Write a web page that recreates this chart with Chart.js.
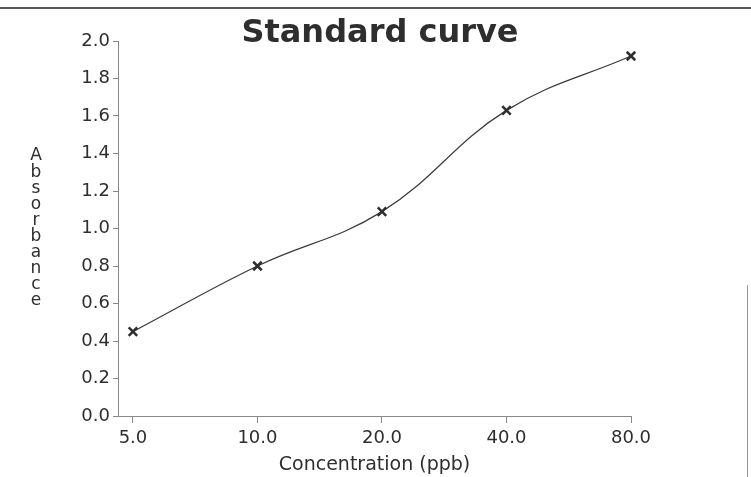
<!DOCTYPE html>
<html>
<head>
<meta charset="utf-8">
<script src="https://cdn.jsdelivr.net/npm/chart.js@4"></script>
<style>
  html, body { margin: 0; padding: 0; background: #fff; }
  #wrap { position: relative; width: 751px; height: 477px; }
  #scan-top { position: absolute; left: 0; top: 7px; width: 751px; height: 2px; background: #555; }
  #scan-right { position: absolute; left: 747px; top: 285px; width: 1px; height: 192px; background: #999; }
</style>
</head>
<body>
<div id="wrap">
  <canvas id="curve-chart" width="751" height="477"></canvas>
  <div id="scan-top"></div>
  <div id="scan-right"></div>
</div>
<script>
const ctx = document.getElementById("curve-chart").getContext("2d");

// Data
let concLabels = ["5.0", "10.0", "20.0", "40.0", "80.0"];
let absorbance = [0.45, 0.80, 1.09, 1.63, 1.92];
let yTicks = [0, 0.2, 0.4, 0.6, 0.8, 1.0, 1.2, 1.4, 1.6, 1.8, 2.0];

let inkColor = "#2e2e2e";
let axisColor = "#888";
let fontName = "'DejaVu Sans', sans-serif";

// stacked "Absorbance" label on the left
const stackedYTitle = {
  id: "stackedYTitle",
  afterDraw(chart) {
    const c = chart.ctx;
    const area = chart.chartArea;
    const word = "Absorbance";
    const step = 16.1;
    const midY = (area.top + area.bottom) / 2;
    const startY = midY - (word.length - 1) * step / 2;
    c.save();
    c.fillStyle = inkColor;
    c.font = "17px " + fontName;
    c.textAlign = "center";
    c.textBaseline = "middle";
    for (let i = 0; i < word.length; i++) {
      c.fillText(word[i], 36, startY + i * step);
    }
    c.restore();
  }
};

const data = {
  datasets: [
    {
      label: "Absorbance",
      data: absorbance.map((v, i) => ({ x: i, y: v })),
      borderColor: "#3a3a3a",
      borderWidth: 1.2,
      tension: 0.4,
      clip: false,
      pointStyle: "crossRot",
      pointRadius: 6,
      pointBorderWidth: 2.5,
      pointBorderColor: inkColor,
      pointBackgroundColor: inkColor,
      fill: false,
    },
  ],
};

const options = {
  responsive: false,
  animation: false,
  layout: {
    padding: { left: 9, right: 0, top: 0, bottom: 0 },
  },
  plugins: {
    legend: { display: false },
    tooltip: { enabled: false },
    title: {
      display: true,
      text: "Standard curve",
      color: inkColor,
      font: { family: fontName, size: 32, weight: "bold" },
      padding: { top: 14, bottom: -11.4 },
    },
  },
  scales: {
    x: {
      type: "linear",
      min: -0.12,
      max: concLabels.length - 1,
      afterBuildTicks: (scale) => {
        scale.ticks = concLabels.map((_, i) => ({ value: i }));
      },
      afterFit: (scale) => {
        scale.height = 61;
      },
      grid: {
        drawOnChartArea: false,
        color: axisColor,
        tickLength: 7,
      },
      border: { color: axisColor, width: 1 },
      ticks: {
        color: inkColor,
        padding: 5,
        maxRotation: 0,
        font: { family: fontName, size: 18 },
        callback: (value) => concLabels[value],
      },
      title: {
        display: true,
        text: "Concentration (ppb)",
        color: inkColor,
        font: { family: fontName, size: 19 },
        padding: { top: 0, bottom: 1 },
      },
    },
    y: {
      min: 0,
      max: 2,
      afterBuildTicks: (scale) => {
        scale.ticks = yTicks.map((v) => ({ value: v }));
      },
      afterFit: (scale) => {
        scale.width = 109;
      },
      grid: {
        drawOnChartArea: false,
        color: axisColor,
        tickLength: 5,
      },
      border: { color: axisColor, width: 1 },
      ticks: {
        color: inkColor,
        padding: 3,
        font: { family: fontName, size: 18 },
        callback: (value) => value.toFixed(1),
      },
    },
    // empty right-hand margin so the title centres like the scan
    spacer: {
      type: "linear",
      position: "right",
      min: 0,
      max: 1,
      afterFit: (scale) => {
        scale.width = 120;
      },
      grid: { display: false },
      border: { display: false },
      ticks: { display: false },
    },
  },
};

const config = {
  type: "line",
  data: data,
  options: options,
  plugins: [stackedYTitle],
};

new Chart(ctx, config);
</script>
</body>
</html>
